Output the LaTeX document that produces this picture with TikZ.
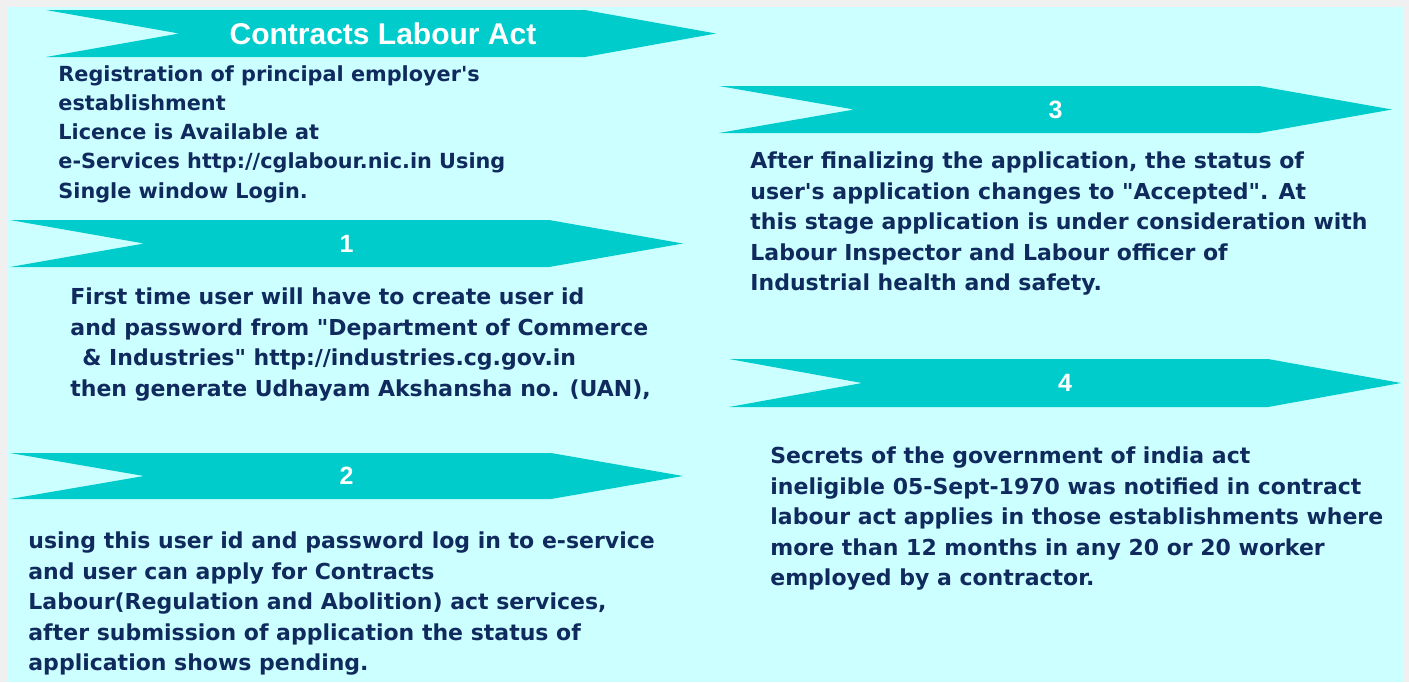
\documentclass[tikz,border=0pt]{standalone}
\usepackage{fontspec}
\newfontfamily\bodyfont{DejaVu Sans}[Ligatures=TeXOff]
\newfontfamily\headfont{Liberation Sans}
\definecolor{frame}{RGB}{240,240,240}
\definecolor{panel}{RGB}{204,255,255}
\definecolor{ribbon}{RGB}{0,204,204}
\definecolor{ink}{RGB}{16,42,94}
\tikzset{
  body/.style={anchor=north west, inner sep=0pt, align=left, text=ink,
    font=\bodyfont\bfseries\fontsize{11}{15.25}\selectfont},
  small body/.style={body, font=\bodyfont\bfseries\fontsize{10.4}{14.6}\selectfont},
  head/.style={text=white, inner sep=0pt, font=\headfont\bfseries\fontsize{15}{17}\selectfont},
  num/.style={text=white, inner sep=0pt, font=\headfont\bfseries\fontsize{12.5}{15}\selectfont}
}
\begin{document}
\begin{tikzpicture}[x=0.5pt, y=-0.5pt]
\useasboundingbox (0,0) rectangle (1409,682);
\fill [frame] (0,0) rectangle (1409,682);
\fill [panel] (7,7) rectangle (1403,682);

% ribbons
\fill [ribbon] (46,10) -- (585,10) -- (716,33.5) -- (585,57) -- (46,57) -- (179,33.5) -- cycle;
\fill [ribbon] (10,220) -- (549,220) -- (683,243.5) -- (549,267) -- (10,267) -- (144,243.5) -- cycle;
\fill [ribbon] (10,453) -- (551,453) -- (683,476) -- (551,499) -- (10,499) -- (144,476) -- cycle;
\fill [ribbon] (719,86) -- (1259,86) -- (1392,109.5) -- (1259,133) -- (719,133) -- (854,109.5) -- cycle;
\fill [ribbon] (729,359) -- (1268,359) -- (1401,383) -- (1268,407) -- (729,407) -- (862,383) -- cycle;

\node[head] (title) at (383,33.5) {Contracts Labour Act};
\node[num] (one) at (346.5,243.5) {1};
\node[num] (two) at (346.5,476) {2};
\node[num] (three) at (1055.5,109.5) {3};
\node[num] (four) at (1065,383) {4};

% texts
\node[small body] (intro) at (58,65) {Registration of principal employer's\\
establishment\\
Licence is Available at\\
e-Services http://cglabour.nic.in Using\\
Single window Login.};
\node[body] (stepone) at (70,287.5) {First time user will have to create user id\\
and password from "Department of Commerce\\
\hspace*{6pt}\& Industries" http://industries.cg.gov.in\\
then generate Udhayam Akshansha no. (UAN),};
\node[body] (steptwo) at (28,531.5) {using this user id and password log in to e-service\\
and user can apply for Contracts\\
Labour(Regulation and Abolition) act services,\\
after submission of application the status of\\
application shows pending.};
\node[body] (stepthree) at (750,151.5) {After finalizing the application, the status of\\
user's application changes to "Accepted".  At\\
this stage application is under consideration with\\
Labour Inspector and Labour officer of\\
Industrial health and safety.};
\node[body] (stepfour) at (770,446.5) {Secrets of the government of india act\\
ineligible 05-Sept-1970 was notified in contract\\
labour act applies in those establishments where\\
more than 12 months in any 20 or 20 worker\\
employed by a contractor.};
\end{tikzpicture}
\end{document}
